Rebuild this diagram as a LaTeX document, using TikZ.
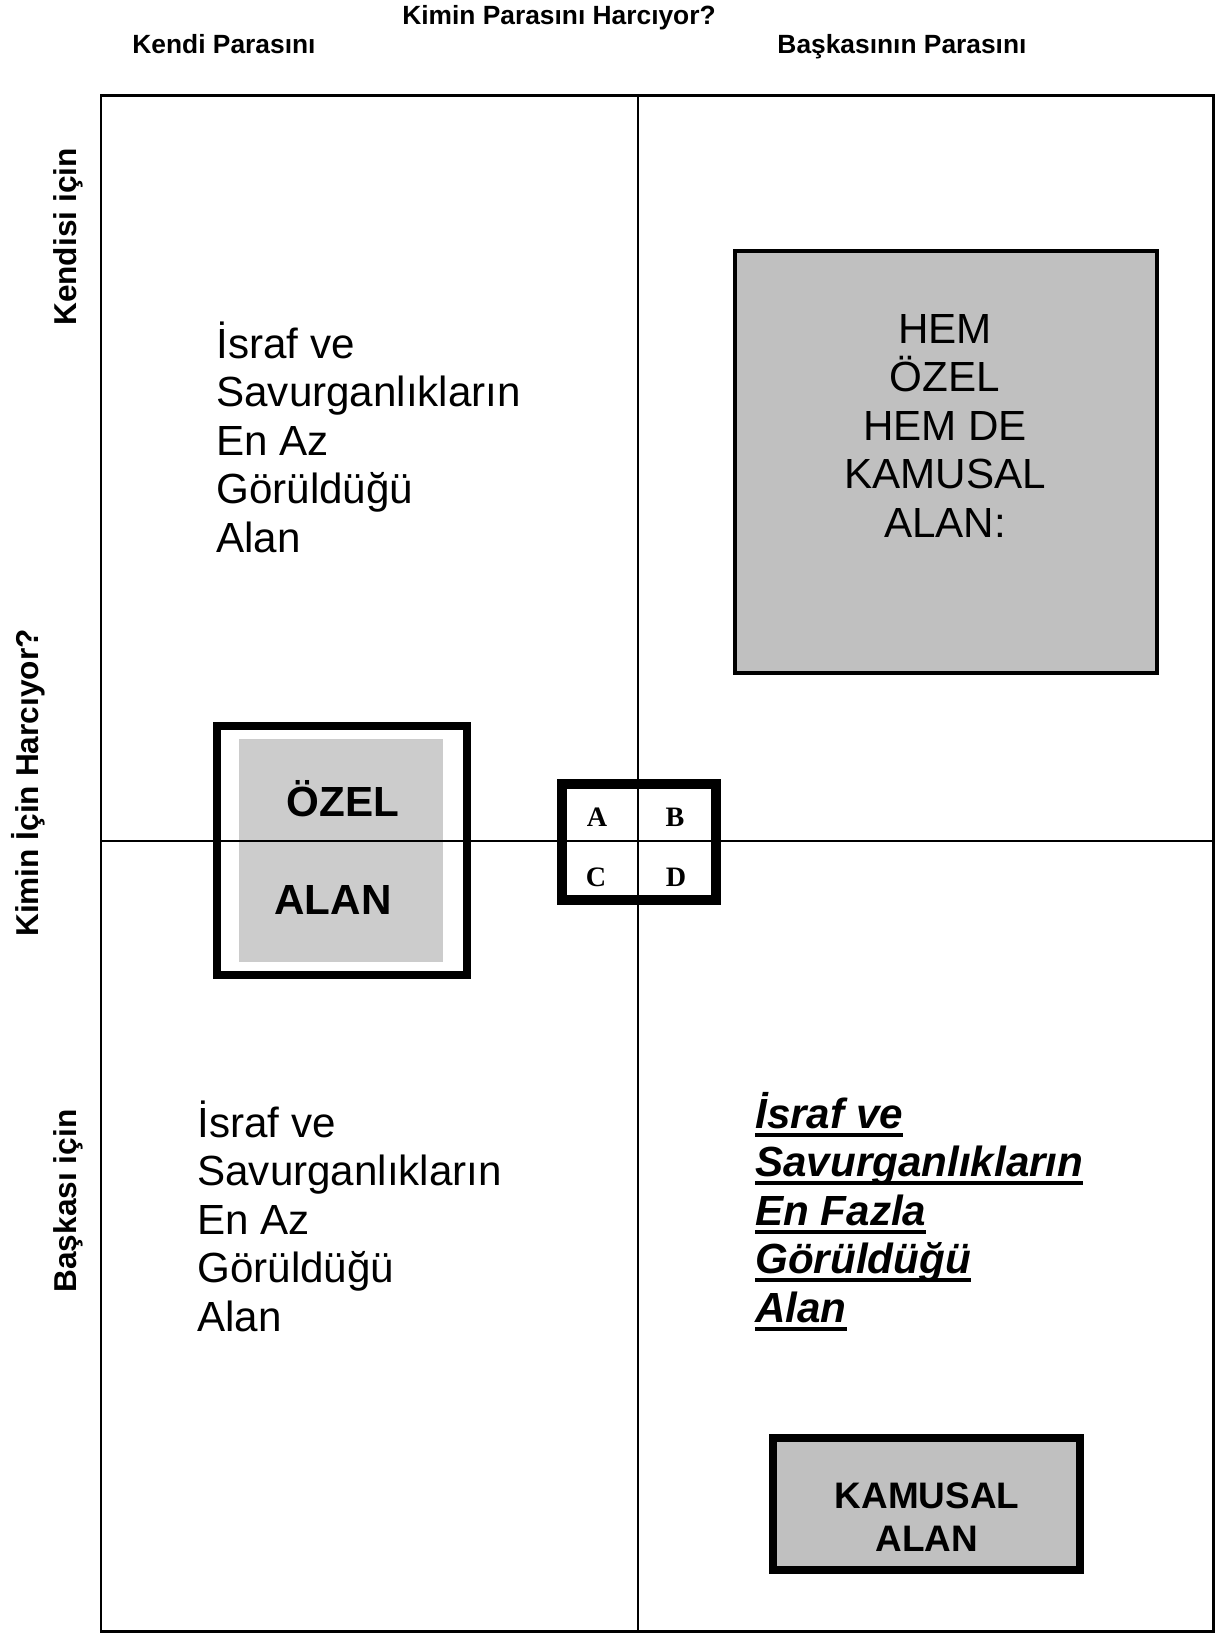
\documentclass[tikz,border=0pt]{standalone}
\usepackage{fontspec}
\setmainfont{Liberation Sans}
\newfontfamily\harffont{Liberation Serif}
\usepackage{xcolor}
\usetikzlibrary{positioning}
\definecolor{kutugri}{HTML}{C0C0C0}
\definecolor{ozelgri}{HTML}{CCCCCC}
\newcommand{\altcizgi}[1]{\setbox0\hbox{#1}\rlap{\rule[-5pt]{\wd0}{2.2pt}}\box0}

\begin{document}
\begin{tikzpicture}[
  x=0.02cm, y=-0.02cm,
  every node/.style={inner sep=0pt, anchor=base},
  baslik/.style={font=\fontsize{15}{18}\selectfont\bfseries},
  yanbaslik/.style={font=\fontsize{18}{21}\selectfont\bfseries, rotate=90},
  metin/.style={font=\fontsize{24}{27.6}\selectfont, align=left, anchor=base west},
  vurgu/.style={font=\fontsize{24}{27.6}\selectfont\bfseries\itshape, align=left, anchor=base west},
  kalin/.style={font=\fontsize{24}{27.6}\selectfont\bfseries},
  harf/.style={font=\harffont\fontsize{16}{16}\selectfont\bfseries, anchor=center}]
\useasboundingbox (0,0) rectangle (1216,1634);

% --- dis cerceve ---
\coordinate (solust) at (101,95);
\coordinate (sagalt) at (1213,1631);
\draw[line width=1.7pt] (solust) rectangle (sagalt);

% --- kutular ---
\draw[line width=2pt, fill=kutugri] (735,251) rectangle (1157,673);
\fill[ozelgri] (239,739) rectangle (443,962);
\draw[line width=4.5pt] (217,726) rectangle (467,975);
\draw[line width=6.2pt, fill=white] (562,784) rectangle (716,900);
\draw[line width=4.5pt, fill=kutugri] (773,1438) rectangle (1080,1570);

% --- orta cizgiler ---
\coordinate (ustorta) at (638,95);
\coordinate (altorta) at (638,1631);
\coordinate (solorta) at (101,841);
\coordinate (sagorta) at (1213,841);
\draw[line width=1.2pt] (ustorta) -- (altorta);
\draw[line width=0.85pt] (solorta) -- (sagorta);

% --- basliklar ---
\node[baslik] (ust) at (559,24) {Kimin Parasını Harcıyor?};
\node[baslik] (kendi) at (224,53) {Kendi Parasını};
\node[baslik] (baska) at (902,53) {Başkasının Parasını};
\node[yanbaslik] (kendisi) at (76,237) {Kendisi için};
\node[yanbaslik] (kimin) at (38,783) {Kimin İçin Harcıyor?};
\node[yanbaslik] (baskasi) at (76,1201) {Başkası için};

% --- alan metinleri (base = son satir) ---
\node[metin] (solust-metin) at (216,552)
  {İsraf ve\\Savurganlıkların\\En Az\\Görüldüğü\\Alan};
\node[metin] (solalt-metin) at (197,1331)
  {İsraf ve\\Savurganlıkların\\En Az\\Görüldüğü\\Alan};
\node[vurgu] (sagalt-metin) at (755,1322)
  {\altcizgi{İsraf ve}\\\altcizgi{Savurganlıkların}\\\altcizgi{En Fazla}\\
   \altcizgi{Görüldüğü}\\\altcizgi{Alan}};
\node[font=\fontsize{24}{27.6}\selectfont, align=center] (hem) at (945,537)
  {HEM\\ÖZEL\\HEM DE\\KAMUSAL\\ALAN:};

% --- ozel ve kamusal alan ---
\node[kalin] (ozel) at (343,816) {ÖZEL};
\node[kalin] (ozel-alan) at (333,914) {ALAN};
\node[font=\fontsize{21}{24.4}\selectfont\bfseries, align=center] (kamusal) at (927,1551)
  {KAMUSAL\\ALAN};

% --- harfler ---
\foreach \h/\px/\py in {A/597/817, B/675/817, C/596/877, D/676/877}
  \node[harf] (harf\h) at (\px,\py) {\h};

\end{tikzpicture}
\end{document}
